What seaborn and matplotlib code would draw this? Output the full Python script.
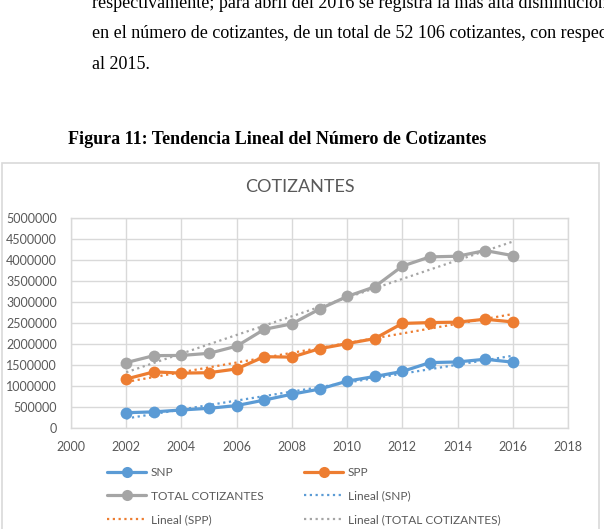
import matplotlib
matplotlib.use("Agg")
import matplotlib.pyplot as plt
from matplotlib.lines import Line2D
from matplotlib.patches import Rectangle
import numpy as np
import pandas as pd
import seaborn as sns

# ---- data ----
years = [2002, 2003, 2004, 2005, 2006, 2007, 2008, 2009, 2010, 2011, 2012, 2013, 2014, 2015, 2016]
snp = [370000, 390000, 435000, 475000, 540000, 670000, 810000, 930000, 1120000, 1230000,
       1350000, 1560000, 1575000, 1640000, 1570000]
spp = [1170000, 1340000, 1310000, 1320000, 1410000, 1700000, 1690000, 1890000, 2010000, 2130000,
       2490000, 2510000, 2520000, 2590000, 2525000]
total = [1560000, 1725000, 1730000, 1780000, 1950000, 2350000, 2480000, 2830000, 3130000, 3360000,
         3850000, 4070000, 4085000, 4220000, 4100000]
series_names = ["SNP", "SPP", "TOTAL COTIZANTES"]
x_ticks = [2000, 2002, 2004, 2006, 2008, 2010, 2012, 2014, 2016, 2018]
y_ticks = [0, 500000, 1000000, 1500000, 2000000, 2500000, 3000000, 3500000, 4000000, 4500000, 5000000]

title = "COTIZANTES"
body_lines = [
    "respectivamente; para abril del 2016 se registra la más alta disminución",
    "en el número de cotizantes, de un total de 52 106 cotizantes, con respecto",
    "al 2015.",
]
caption = "Figura 11: Tendencia Lineal del Número de Cotizantes"

colors = {"SNP": "#5B9BD5", "SPP": "#ED7D31", "TOTAL COTIZANTES": "#A5A5A5"}

df = pd.DataFrame({
    "year": years * 3,
    "value": snp + spp + total,
    "serie": ["SNP"] * len(years) + ["SPP"] * len(years) + ["TOTAL COTIZANTES"] * len(years),
})

sns.set_theme(style="white")
plt.rcParams["font.family"] = ["Lato", "DejaVu Sans"]

W, H = 604, 529
fig = plt.figure(figsize=(W / 100, H / 100), dpi=100)

def fx(px):
    return px / W

def fy(py):
    return 1 - py / H

# chart border box
fig.patches.append(Rectangle((fx(1.5), -0.02), fx(597), fy(162.7) + 0.02,
                             transform=fig.transFigure, facecolor="none",
                             edgecolor="#d9d9d9", linewidth=1.2, zorder=-1))

# document text
for i, line in enumerate(body_lines):
    fig.text(fx(92), fy(8 + i * 30.3), line, family=["Liberation Serif"], fontsize=13,
             color="#000000", va="baseline", ha="left")
fig.text(fx(68), fy(143.5), caption, family=["Liberation Serif"], fontsize=13,
         fontweight="bold", color="#000000", va="baseline", ha="left")

ax = fig.add_axes([fx(71), fy(428.3), fx(568 - 71), (428.3 - 217.7) / H])
ax.set_facecolor("none")

# trend lines (linear fit, dotted)
for name in series_names:
    sub = df[df["serie"] == name]
    sns.regplot(data=sub, x="year", y="value", ax=ax, scatter=False, ci=None,
                truncate=True,
                line_kws=dict(color=colors[name], linestyle=(0, (1, 1.6)), linewidth=1.6,
                              zorder=3))

sns.lineplot(data=df, x="year", y="value", hue="serie", palette=colors, ax=ax,
             marker="o", markersize=8.5, markeredgewidth=0, linewidth=2.3, legend=False,
             zorder=4)

ax.set_xlim(2000, 2018)
ax.set_ylim(0, 5000000)
ax.set_xticks(x_ticks)
ax.set_yticks(y_ticks)
ax.set_xticklabels([str(t) for t in x_ticks])
ax.set_yticklabels([str(t) for t in y_ticks])
ax.set_xlabel("")
ax.set_ylabel("")
ax.grid(True, color="#d9d9d9", linewidth=1.0)
for s in ax.spines.values():
    s.set_color("#d9d9d9")
    s.set_linewidth(1.0)
ax.tick_params(axis="both", length=0, labelsize=9, colors="#595959")
ax.tick_params(axis="y", pad=10)
ax.tick_params(axis="x", pad=9)

fig.text(fx(300), fy(187.5), title, fontsize=13, color="#595959", ha="center", va="center")

# legend (two columns, placed as in reference)
def h_line(name):
    return Line2D([0], [0], color=colors[name], linewidth=2.3, marker="o",
                  markersize=8, markeredgewidth=0)

def h_trend(name):
    return Line2D([0], [0], color=colors[name], linewidth=1.6, linestyle=(0, (1, 1.6)))

left_h = [h_line("SNP"), h_line("TOTAL COTIZANTES"), h_trend("SPP")]
left_l = ["SNP", "TOTAL COTIZANTES", "Lineal (SPP)"]
right_h = [h_line("SPP"), h_trend("SNP"), h_trend("TOTAL COTIZANTES")]
right_l = ["SPP", "Lineal (SNP)", "Lineal (TOTAL COTIZANTES)"]

for hx, hs, ls in [(107, left_h, left_l), (304, right_h, right_l)]:
    leg = fig.legend(hs, ls, loc="upper left", bbox_to_anchor=(fx(hx), fy(467)),
                     frameon=False, fontsize=8.6, handlelength=3.3, handletextpad=0.35,
                     labelspacing=1.05, borderpad=0, borderaxespad=0, labelcolor="#595959")

fig.savefig("out.png", dpi=100)
